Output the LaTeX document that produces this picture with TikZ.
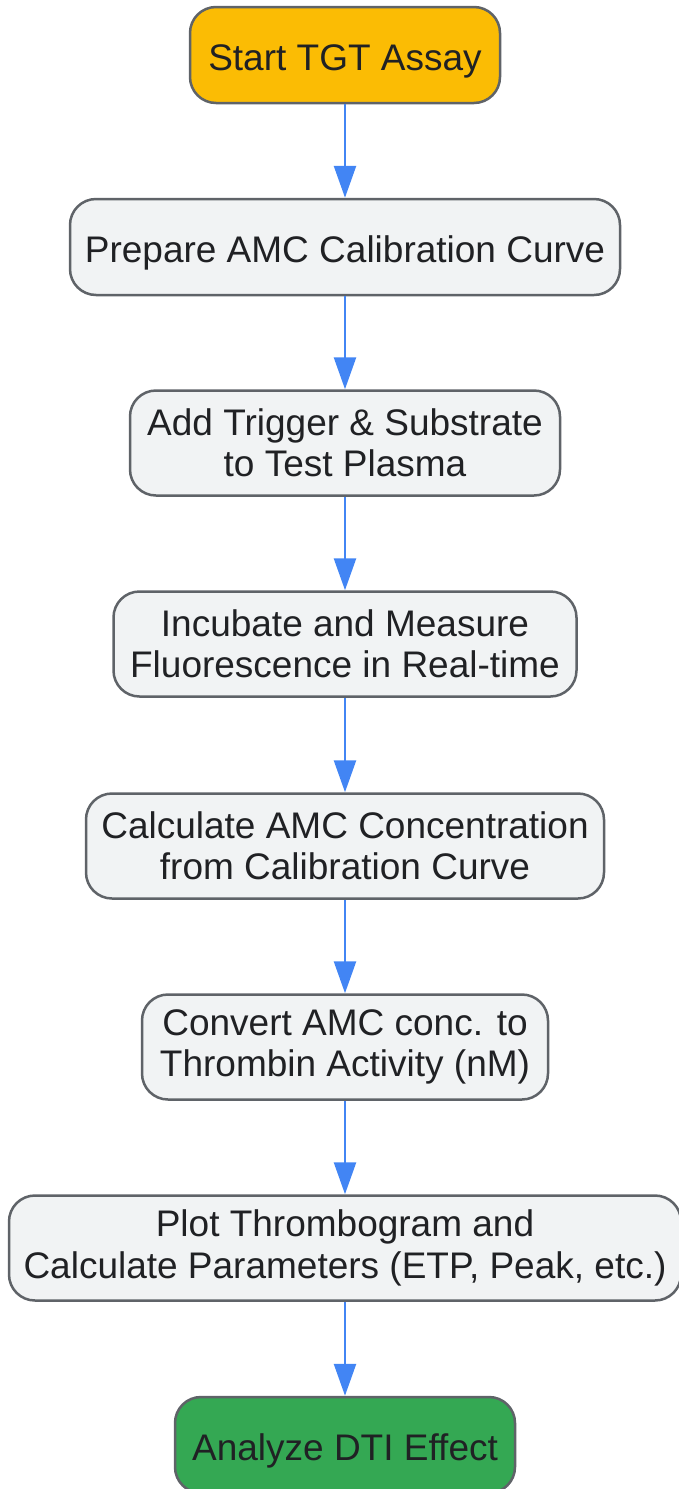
\documentclass[tikz,border=0pt]{standalone}
\usepackage{fontspec}
\setmainfont{Liberation Sans}
\usetikzlibrary{positioning, arrows.meta}
\definecolor{boxline}{HTML}{5F6368}
\definecolor{boxfill}{HTML}{F1F3F4}
\definecolor{boxtext}{HTML}{202124}
\definecolor{startfill}{HTML}{FBBC04}
\definecolor{endfill}{HTML}{34A853}
\definecolor{flowblue}{HTML}{4285F4}

\begin{document}
\begin{tikzpicture}[x=1pt, y=-1pt,
    box/.style={draw=boxline, line width=2.5pt, fill=boxfill, rounded corners=26pt,
      text=boxtext, font=\fontsize{37}{41.5}\selectfont, align=center,
      inner xsep=6pt, inner ysep=0pt, minimum height=105pt},
    endbox/.style={box, minimum height=96pt, text height=38pt, text depth=8pt},
    flow/.style={draw=flowblue, line width=2.6pt, -{Triangle[length=32pt, width=22pt]}}]
      \useasboundingbox (0,0) rectangle (678,1489);

      \node[endbox, fill=startfill, minimum width=310pt] (TGT1) at (345,55) {Start TGT Assay};
      \node[endbox, minimum width=550pt] (TGT2) at (345,247) {Prepare AMC Calibration Curve};
      \node[box, minimum width=430pt] (TGT3) at (345,443) {Add Trigger \& Substrate\\to Test Plasma};
      \node[box, minimum width=463pt] (TGT4) at (345,644) {Incubate and Measure\\Fluorescence in Real-time};
      \node[box, minimum width=518pt] (TGT5) at (345,846) {Calculate AMC Concentration\\from Calibration Curve};
      \node[box, minimum width=406pt] (TGT6) at (345,1047) {Convert AMC conc. to\\Thrombin Activity (nM)};
      \node[box, minimum width=672pt] (TGT7) at (345,1248) {Plot Thrombogram and\\Calculate Parameters (ETP, Peak, etc.)};
      \node[endbox, fill=endfill, minimum width=340pt] (TGT8) at (345,1445) {Analyze DTI Effect};

      \draw[flow] (TGT1) -- (TGT2);
      \draw[flow] (TGT2) -- (TGT3);
      \draw[flow] (TGT3) -- (TGT4);
      \draw[flow] (TGT4) -- (TGT5);
      \draw[flow] (TGT5) -- (TGT6);
      \draw[flow] (TGT6) -- (TGT7);
      \draw[flow] (TGT7) -- (TGT8);
    \end{tikzpicture}
\end{document}
